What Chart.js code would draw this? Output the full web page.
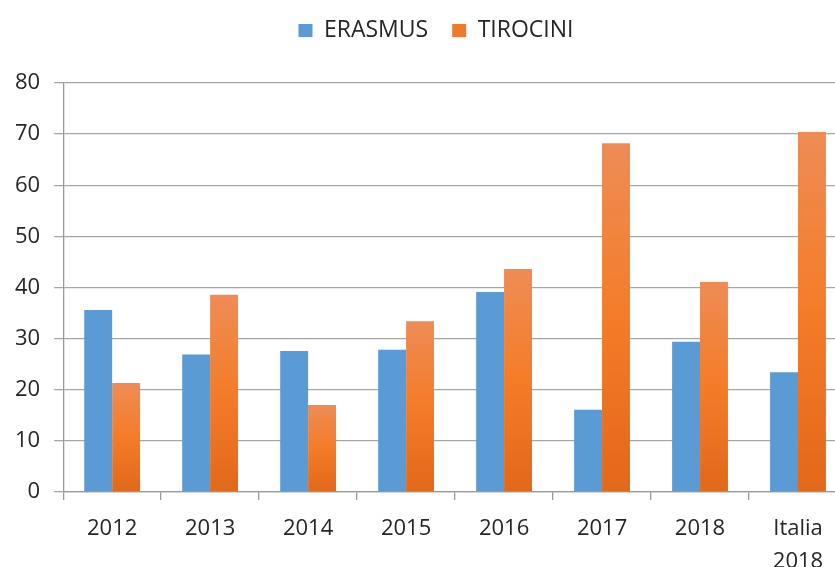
<!DOCTYPE html>
<html>
<head>
<meta charset="utf-8">
<script src="https://cdn.jsdelivr.net/npm/chart.js@4"></script>
<style>
  html, body { margin: 0; padding: 0; background: #fff; overflow: hidden; }
  #wrap { width: 850px; height: 590px; }
</style>
</head>
<body>
<div id="wrap"><canvas id="chart" width="850" height="590"></canvas></div>
<script>
const categories = ['2012', '2013', '2014', '2015', '2016', '2017', '2018', ['Italia', '2018']];
const erasmus = [35.6, 26.9, 27.6, 27.8, 39.1, 16.1, 29.4, 23.4];
const tirocini = [21.3, 38.6, 17.0, 33.4, 43.6, 68.2, 41.1, 70.4];
const yTicks = [0, 10, 20, 30, 40, 50, 60, 70, 80];

// excel style gradient per bar, lighter at the top
function orangeFill(context) {
    const chart = context.chart;
    if (!chart.chartArea) return '#F47D2B';
    const y = chart.scales.y;
    const top = y.getPixelForValue(context.raw);
    const bottom = y.getPixelForValue(0);
    if (!isFinite(top) || bottom - top < 1) return '#F47D2B';
    const g = chart.ctx.createLinearGradient(0, top, 0, bottom);
    g.addColorStop(0, '#EE8C55');
    g.addColorStop(0.5, '#F47C28');
    g.addColorStop(1, '#E2681A');
    return g;
}

// extra room under the legend, and nudge it right like the original
const legendGap = {
    id: 'legendGap',
    afterInit(chart) {
        const lg = chart.legend;
        const fit = lg.fit;
        lg.fit = function () {
            fit.call(this);
            this.height += 31;
        };
        const draw = lg.draw;
        lg.draw = function () {
            const c = this.ctx;
            c.save();
            c.translate(12, 0);
            draw.apply(this, arguments);
            c.restore();
        };
    }
};

const ctx = document.getElementById('chart').getContext('2d');
const chart = new Chart(ctx, {
    type: 'bar',
    data: {
        labels: categories,
        datasets: [{
            label: 'ERASMUS',
            data: erasmus,
            backgroundColor: '#5B9BD5'
        }, {
            label: 'TIROCINI',
            data: tirocini,
            backgroundColor: orangeFill
        }]
    },
    plugins: [legendGap],
    options: {
        responsive: false,
        animation: false,
        categoryPercentage: 0.57,
        barPercentage: 1.0,
        layout: {
            padding: { left: 1, right: 3, top: -5, bottom: 0 }
        },
        plugins: {
            legend: {
                position: 'top',
                labels: {
                    boxWidth: 14,
                    boxHeight: 13,
                    padding: 24,
                    color: '#262626',
                    font: { family: 'Open Sans', size: 23 },
                    generateLabels: function (c) {
                        const items = Chart.defaults.plugins.legend.labels.generateLabels(c);
                        items[1].fillStyle = '#EE7A2E';
                        items.forEach(i => { i.lineWidth = 0; i.strokeStyle = 'rgba(0,0,0,0)'; });
                        return items;
                    }
                }
            },
            tooltip: { enabled: false }
        },
        scales: {
            x: {
                grid: {
                    drawOnChartArea: false,
                    drawTicks: true,
                    tickLength: 8,
                    color: '#9a9a9a',
                    lineWidth: 1.3
                },
                border: { color: '#9a9a9a', width: 1.3 },
                ticks: {
                    color: '#262626',
                    padding: 12,
                    maxRotation: 0,
                    font: { family: 'Open Sans', size: 22, lineHeight: 1.5 }
                }
            },
            y: {
                min: 0,
                max: 80,
                afterBuildTicks: function (axis) {
                    axis.ticks = yTicks.map(v => ({ value: v }));
                },
                grid: {
                    color: '#a6a6a6',
                    lineWidth: 1.3,
                    tickLength: 9
                },
                border: { color: '#9a9a9a', width: 1.3 },
                ticks: {
                    color: '#262626',
                    padding: 14,
                    font: { family: 'Open Sans', size: 22 }
                }
            }
        }
    }
});
</script>
</body>
</html>
